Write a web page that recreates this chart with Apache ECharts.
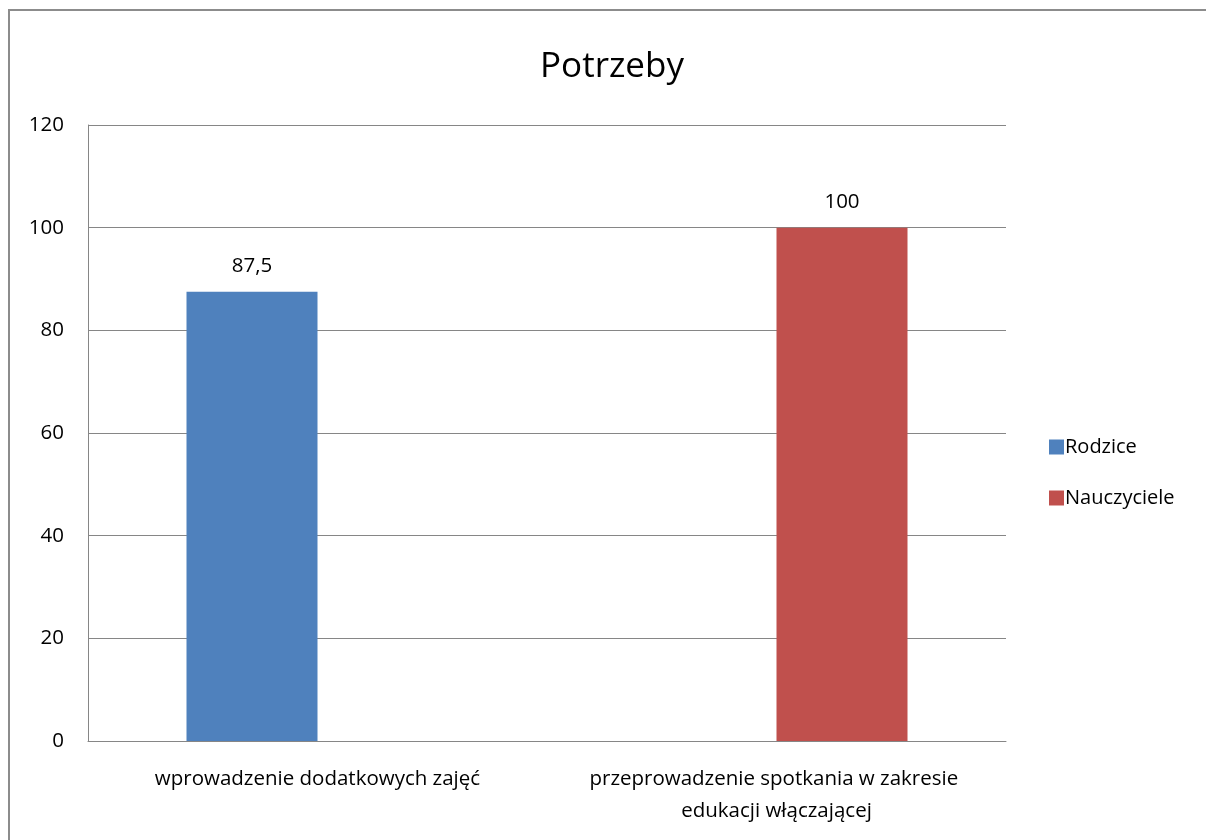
<!DOCTYPE html>
<html>
<head>
  <meta charset="UTF-8">
  <title>Potrzeby</title>
  <script src="https://cdn.jsdelivr.net/npm/echarts@6/dist/echarts.min.js"></script>
  <style>
    html, body { margin: 0; padding: 0; background: #fff; }
    #main { width: 1206px; height: 840px; }
  </style>
</head>
<body>
  <div id="main"></div>
  <script>
    // dane z wykresu
    var categories = ['wprowadzenie dodatkowych zajęć', 'przeprowadzenie spotkania w zakresie edukacji włączającej'];
    var rodzice = [87.5, null];
    var nauczyciele = [null, 100];
    var yTicks = [0, 20, 40, 60, 80, 100, 120];

    var font = 'Open Sans';
    var myChart = echarts.init(document.getElementById('main'));

    function lbl(p) {
      return String(p.value).replace('.', ',');
    }

    var option = {
      backgroundColor: '#fff',
      animation: false,
      textStyle: { fontFamily: font },
      graphic: [{
        type: 'rect',
        shape: { x: 9, y: 10, width: 1210, height: 840 },
        style: { fill: 'none', stroke: '#8c8c8c', lineWidth: 2 },
        silent: true
      }],
      title: {
        text: 'Potrzeby',
        left: 607,
        textAlign: 'center',
        top: 45,
        textStyle: { fontFamily: font, fontSize: 35, fontWeight: 'normal', color: '#000' }
      },
      legend: {
        orient: 'vertical',
        left: 1044,
        top: 432,
        itemWidth: 15,
        itemHeight: 15,
        itemGap: 31,
        icon: 'rect',
        textStyle: { fontFamily: font, fontSize: 20, color: '#000', padding: [0, 0, 0, -4] },
        data: ['Rodzice', 'Nauczyciele']
      },
      grid: { left: 88, right: 200, top: 125, bottom: 99 },
      xAxis: {
        type: 'category',
        data: categories,
        axisLine: { lineStyle: { color: '#868686' } },
        axisTick: { show: false },
        axisLabel: {
          fontFamily: font, fontSize: 20.5, color: '#000', margin: 22,
          width: 410, overflow: 'break', lineHeight: 32, interval: 0
        }
      },
      yAxis: {
        type: 'value',
        min: yTicks[0],
        max: yTicks[yTicks.length - 1],
        interval: 20,
        axisLine: { show: true, lineStyle: { color: '#868686' } },
        axisTick: { show: false },
        splitLine: { lineStyle: { color: '#868686' } },
        axisLabel: { fontFamily: font, fontSize: 20.5, color: '#000', margin: 24 }
      },
      series: [{
        name: 'Rodzice',
        type: 'bar',
        data: rodzice,
        barWidth: 131,
        barGap: '0%',
        itemStyle: { color: '#4F81BD' },
        label: { show: true, position: 'top', distance: 15, formatter: lbl, fontFamily: font, fontSize: 20.5, color: '#000' }
      }, {
        name: 'Nauczyciele',
        type: 'bar',
        data: nauczyciele,
        barWidth: 131,
        barGap: '0%',
        itemStyle: { color: '#C0504D' },
        label: { show: true, position: 'top', distance: 15, formatter: lbl, fontFamily: font, fontSize: 20.5, color: '#000' }
      }]
    };
    myChart.setOption(option);
  </script>
</body>
</html>
